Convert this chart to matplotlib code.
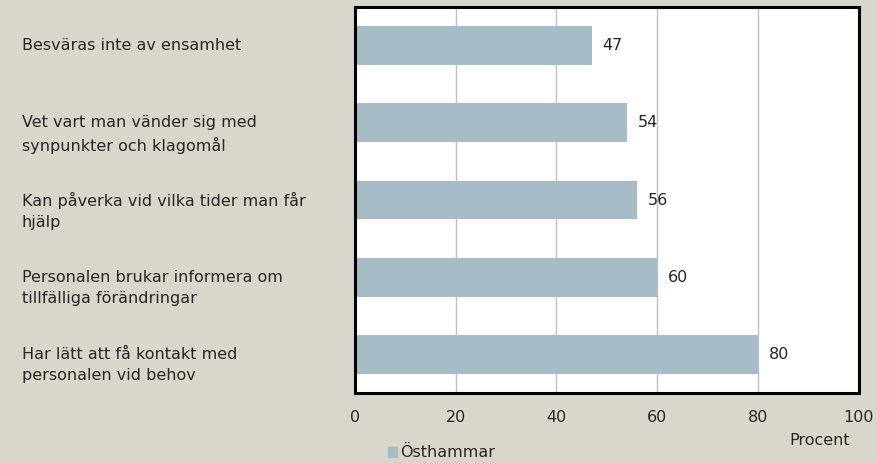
import matplotlib.pyplot as plt
import matplotlib.transforms as mtransforms
from matplotlib.patches import Patch

# Data
categories = [
    "Besväras inte av ensamhet",
    "Vet vart man vänder sig med\nsynpunkter och klagomål",
    "Kan påverka vid vilka tider man får\nhjälp",
    "Personalen brukar informera om\ntillfälliga förändringar",
    "Har lätt att få kontakt med\npersonalen vid behov",
]
values = [47, 54, 56, 60, 80]
series_name = "Östhammar"
x_ticks = [0, 20, 40, 60, 80, 100]

bg = "#d9d6cb"
bar_color = "#a7bcc6"
text_color = "#262626"

plt.rcParams['font.family'] = ['DejaVu Sans']
plt.rcParams['font.size'] = 11.5

fig = plt.figure(figsize=(8.78, 4.63), dpi=100, facecolor=bg)
ax = fig.add_axes([0.404, 0.151, 0.574, 0.834])
ax.set_facecolor("white")

y = list(range(len(categories)))
ax.barh(y, values, height=0.5, color=bar_color, zorder=2)
ax.set_ylim(len(categories) - 0.5, -0.5)
ax.set_xlim(0, 100)
ax.set_xticks(x_ticks)
ax.set_yticks([])
ax.tick_params(axis='x', length=0, pad=12, colors=text_color, labelsize=11.5)
ax.grid(axis='x', color="#c0c0c0", linewidth=1, zorder=1)
for side in ax.spines.values():
    side.set_linewidth(2.2)
    side.set_color("black")

# value labels
for yi, v in zip(y, values):
    ax.annotate(str(v), xy=(v, yi), xytext=(8, 0), textcoords='offset points',
                va='center', ha='left', color=text_color)

# category labels, left aligned near the figure edge
trans = mtransforms.blended_transform_factory(fig.transFigure, ax.transData)
for yi, label in zip(y, categories):
    ax.annotate(label, xy=(0.025, yi), xycoords=trans, xytext=(0, 5.5),
                textcoords='offset points', va='top', ha='left',
                linespacing=1.5, color=text_color, annotation_clip=False)

fig.text(0.968, 0.048, "Procent", ha='right', va='center', color=text_color)

fig.legend(handles=[Patch(color=bar_color, label=series_name)],
           loc='center left', bbox_to_anchor=(0.425, 0.022), frameon=False,
           handlelength=0.6, handleheight=0.6, handletextpad=0.2,
           labelcolor=text_color, fontsize=11.5)

fig.savefig("out.png", dpi=100, facecolor=bg)
